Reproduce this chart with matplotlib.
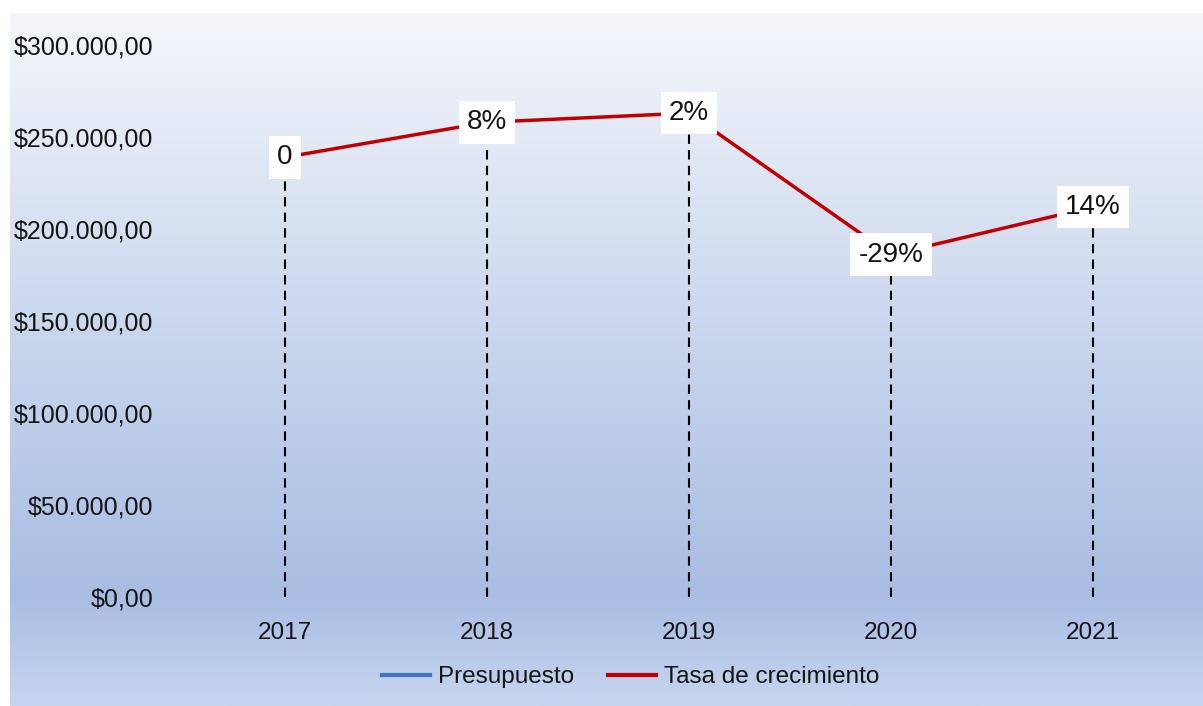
import numpy as np
import matplotlib
matplotlib.use("Agg")
import matplotlib.pyplot as plt
from matplotlib.colors import LinearSegmentedColormap
from matplotlib.lines import Line2D
from matplotlib.ticker import FuncFormatter

plt.rcParams["font.family"] = ["Liberation Sans", "DejaVu Sans"]

# 年度別予算とその成長率ラベル
years = ["2017", "2018", "2019", "2020", "2021"]
presupuesto = [239000, 258000, 263000, 186000, 212000]
tasa_labels = ["0", "8%", "2%", "-29%", "14%"]

RED = "#c00000"
BLUE = "#4472c4"
TEXT = "#141414"


def money_fmt(v, pos):
    # $300.000,00 形式（ピリオド区切り、カンマ小数点）
    s = f"{v:,.2f}"
    s = s.replace(",", "X").replace(".", ",").replace("X", ".")
    return f"${s}"


fig = plt.figure(figsize=(12.03, 7.06), dpi=100)

# 背景グラデーション（上が白、下が青）
bg = fig.add_axes([10 / 1203, 0, 1 - 10 / 1203, 1 - 13 / 706], zorder=-10)
grad_cmap = LinearSegmentedColormap.from_list(
    "bg", [(0.0, "#f4f6fb"), (0.45, "#cad7ed"), (0.84, "#a9bde3"), (1.0, "#c6d5ef")]
)
bg.imshow(np.linspace(0, 1, 256).reshape(-1, 1), aspect="auto", cmap=grad_cmap,
          extent=[0, 1, 0, 1], origin="upper")
bg.axis("off")

ax = fig.add_axes([184 / 1203, 1 - 597 / 706, 1010 / 1203, 552 / 706])
ax.patch.set_alpha(0)
x = np.arange(len(years))

# 垂直の破線（ドロップライン）
ax.vlines(x, 0, presupuesto, colors="black", linewidth=1.5,
          linestyles=[(0, (4.5, 3))], zorder=2)

ax.plot(x, presupuesto, color=RED, linewidth=2.5, zorder=3, solid_capstyle="butt")

for xi, yi, lab in zip(x, presupuesto, tasa_labels):
    ax.text(xi, yi, lab, ha="center", va="center", fontsize=20, color=TEXT, zorder=5,
            bbox=dict(boxstyle="square,pad=0.3", facecolor="white", edgecolor="none"))

ax.set_xlim(-0.5, len(years) - 0.5)
ax.set_ylim(0, 300000)
ax.set_yticks(np.arange(0, 300001, 50000))
ax.yaxis.set_major_formatter(FuncFormatter(money_fmt))
ax.set_xticks(x)
ax.set_xticklabels(years)
ax.tick_params(axis="y", length=0, pad=22, labelsize=18, labelcolor=TEXT)
ax.tick_params(axis="x", length=0, pad=18, labelsize=17.5, labelcolor=TEXT)
for sp in ax.spines.values():
    sp.set_visible(False)

handles = [Line2D([], [], color=BLUE, linewidth=3),
           Line2D([], [], color=RED, linewidth=3)]
fig.legend(handles, ["Presupuesto", "Tasa de crecimiento"], loc="center",
           bbox_to_anchor=(0.524, 0.041), ncol=2, frameon=False, fontsize=17.5,
           handlelength=2.0, handletextpad=0.3, columnspacing=1.4, labelcolor=TEXT)

fig.savefig("out.png", dpi=100, facecolor="white")
